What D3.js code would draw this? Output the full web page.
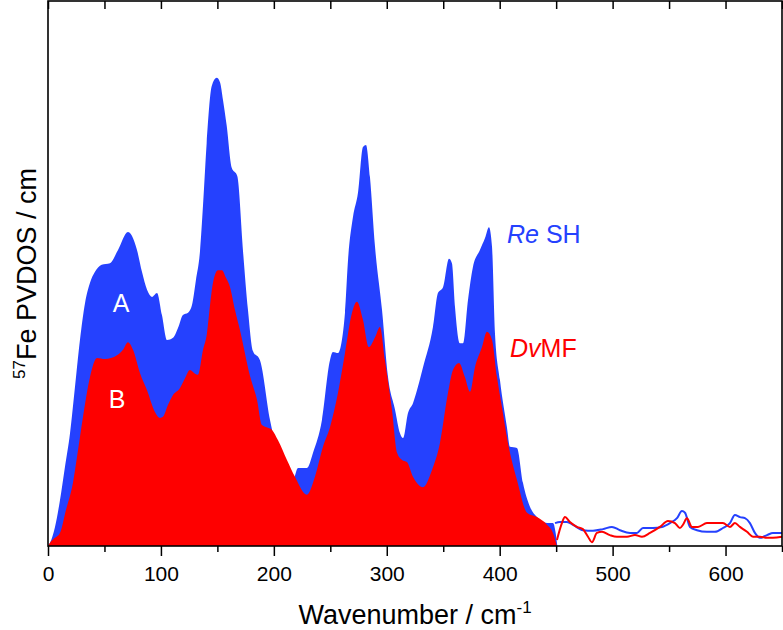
<!DOCTYPE html>
<html>
<head>
<meta charset="utf-8">
<script src="https://cdn.jsdelivr.net/npm/d3@7"></script>
<style>
  html, body { margin: 0; padding: 0; background: #fff; }
  svg { display: block; font-family: "Liberation Sans", Arial, Helvetica, sans-serif; }
</style>
</head>
<body>
<svg id="chart" width="783" height="630"></svg>
<script>
// ---- Data (wavenumber in cm^-1, PVDOS in arbitrary units) ----
// Re SH (A), filled part 0–450 cm^-1
const reshFillWn = [0,1.8,6.2,10.6,15,19.5,23.9,28.3,32.8,37.2,41.6,47.5,54.9,62,70.8,74.4,78.8,83.2,87.7,92.1,96.5,100.9,105.4,110.7,115.1,119.5,124,127.5,131,134.6,137.3,140.5,145,149.4,152.3,155,158.2,162.7,167.6,172.7,177.1,181.5,187.7,196.6,205.4,216.9,221.4,229.3,234.7,242.6,249.7,252.3,256.8,263,265.7,270.1,274.5,278.9,281.6,285.1,289.6,295.8,301.1,307.3,311.7,314.4,318.8,323.2,327.6,332.1,340.9,345.3,349.8,355.1,357.7,360.4,364.8,367.5,371.9,376.3,382.5,387,390.5,393.2,395.8,400.2,406.4,409.1,415.3,420.6,426.8,433,441.9,447.2,449.5,451];
const reshFillVal = [0,0.6,3.5,8.4,14.5,20.7,29.2,37.8,44.6,48.3,50.3,51.6,51.9,54.3,57.6,56.9,54.3,50.3,47.0,45.7,46.4,42.4,37.8,38.2,40.0,42.4,42.8,44.2,48.8,54.1,62.6,73.9,84.4,85.9,85.1,81.8,77.2,69.4,67.9,54.1,43.3,35.8,34.1,23.1,15.8,12.1,14.3,14.3,17.1,23.1,34.1,35.6,35.4,42.8,52.5,60.4,64.8,73.2,73.6,67.7,54.9,43.3,31.0,25.0,20.7,19.8,24.4,26.2,29.2,32.8,40.2,46.4,47.5,52.7,51.9,43.9,37.2,37.2,45.1,51.2,54.3,56.5,58.5,54.9,39.1,30.5,21.8,18.2,18.0,11.6,7.2,5.3,4.2,4.2,2.5,0];
// Re SH tail 450–650 cm^-1
const reshTailWn = [449,453.4,459.6,464.9,473.7,482.6,491.5,499.4,506.5,515.4,521.6,526.9,535.7,543.7,550.8,557,561.4,564.1,568.5,574.7,583.5,590.6,597.7,603.9,608.3,612.8,617.2,621.6,626,630.5,636.7,642,650];
const reshTailVal = [4.2,4.4,4.4,3.9,2.9,2.8,3.1,3.5,2.9,2.4,2.4,3.3,3.3,3.5,4.2,5.1,6.4,6.1,3.5,2.9,2.6,2.6,3.3,4.2,5.7,5.3,5.1,4.2,2.4,1.5,2.0,2.4,2.4];

// DvMF (B), filled part 0–450 cm^-1
const dvmfFillWn = [0,1.8,6.2,10.6,15.9,22.1,26.6,31,37.2,43.4,50.5,61.1,66.4,70.8,75.3,81.5,87.7,94.7,99.2,101.8,106.3,110.7,116.9,121.3,125.7,130.2,132.8,137.3,140.8,143.5,146.1,150.5,154.1,157.6,161.2,165.6,170,178.9,185.1,189.5,194.8,198.4,203.7,211.6,218.7,229.3,236.4,243.5,249.7,256.8,263,269.2,273.6,278.9,284.2,289.6,294,298.4,304.6,309.1,313.5,317.9,323.2,332.1,340,347.1,354.2,358.6,364,369.2,373.7,378.1,384.3,388.7,393.2,397.6,402,407.3,415.3,424.2,433,441.9,447.2,450.7];
const dvmfFillVal = [0,0.6,1.5,2.4,6.6,11.6,17.6,23.7,31.0,34.5,34.3,35.0,36.0,37.4,36.0,31.7,28.6,24.6,23.5,23.7,25.9,27.7,29.0,30.8,32.3,31.6,31.4,36.0,39.1,44.2,48.3,50.6,50.6,49.2,47.5,43.3,39.6,31.2,26.8,22.2,21.7,21.3,19.4,15.8,12.7,9.4,12.7,18.2,21.8,28.1,35.4,42.8,44.8,41.5,36.5,38.3,40.2,34.1,25.0,17.1,15.8,15.4,12.7,10.8,13.9,18.9,28.1,32.3,33.6,31.0,28.3,32.8,36.5,39.3,37.8,31.0,25.5,18.9,12.1,6.1,5.3,3.9,2.4,0];
// DvMF tail 450–650 cm^-1
const dvmfTailWn = [450.7,455.1,457.8,462.2,468.4,473.7,478.2,481.7,486.1,490.6,497.6,503.8,512.7,519.8,526,533.1,541.9,549,555.2,559.6,562.3,565.8,570.3,575.6,583.5,592.4,597.7,603.9,608.3,612.8,619,624.3,630.5,636.7,642,650];
const dvmfTailVal = [1.1,4.2,5.3,4.4,3.5,3.1,1.7,0.7,2.4,2.6,2.0,1.7,1.7,2.0,1.7,2.4,3.5,4.6,4.2,3.3,3.9,5.1,3.5,3.5,4.2,4.2,4.2,3.5,4.2,3.5,2.6,1.7,1.7,1.5,1.5,1.7];

const xMajorTicks = [0,100,200,300,400,500,600];
const xMinorTicks = [50,150,250,350,450,550,650];
const xDomain = [0,650];
const yDomain = [0,100];

// ---- Layout ----
const svg = d3.select("#chart");
const W = 783, H = 630;
const mLeft = 48, mRight = 782, mTop = 1, mBottom = 546;
const blue = "#2541fe", red = "#fe0000";

svg.append("rect").attr("width", W).attr("height", H).attr("fill", "#fff");

const x = d3.scaleLinear().domain(xDomain).range([mLeft, mRight]);
const y = d3.scaleLinear().domain(yDomain).range([mBottom, mTop]);

const zip = (a, b) => a.map((v, i) => [v, b[i]]);

const area = d3.area().x(d => x(d[0])).y0(y(0)).y1(d => y(d[1])).curve(d3.curveMonotoneX);
const line = d3.line().x(d => x(d[0])).y(d => y(d[1])).curve(d3.curveMonotoneX);

const g = svg.append("g");
g.append("path").datum(zip(reshFillWn, reshFillVal)).attr("d", area).attr("fill", blue);
g.append("path").datum(zip(dvmfFillWn, dvmfFillVal)).attr("d", area).attr("fill", red);
g.append("path").datum(zip(reshTailWn, reshTailVal)).attr("d", line)
  .attr("fill", "none").attr("stroke", blue).attr("stroke-width", 2);
g.append("path").datum(zip(dvmfTailWn, dvmfTailVal)).attr("d", line)
  .attr("fill", "none").attr("stroke", red).attr("stroke-width", 2);

// ---- Axes ----
const axisStyle = sel => {
  sel.select(".domain").remove();
  sel.selectAll(".tick line").attr("stroke", "#000").attr("stroke-width", 1.5);
};
// bottom major
svg.append("g").attr("transform", `translate(0,${mBottom})`)
  .call(d3.axisBottom(x).tickValues(xMajorTicks).tickSize(10).tickPadding(10).tickFormat(d3.format("d")))
  .call(axisStyle)
  .call(s => s.selectAll(".tick text").attr("font-size", 21).attr("fill", "#000")
    .attr("font-family", "'Liberation Sans', Arial, sans-serif"));
// bottom minor
svg.append("g").attr("transform", `translate(0,${mBottom})`)
  .call(d3.axisBottom(x).tickValues(xMinorTicks).tickSize(6).tickFormat(""))
  .call(axisStyle);
// top major & minor (inward)
svg.append("g").attr("transform", `translate(0,${mTop})`)
  .call(d3.axisBottom(x).tickValues(xMajorTicks.concat(xMinorTicks)).tickSize(8).tickFormat(""))
  .call(axisStyle);

// frame
svg.append("rect").attr("x", mLeft).attr("y", mTop).attr("width", mRight - mLeft).attr("height", mBottom - mTop)
  .attr("fill", "none").attr("stroke", "#000").attr("stroke-width", 1.6);

// ---- Titles ----
const xt = svg.append("text").attr("x", (mLeft + mRight) / 2).attr("y", 624)
  .attr("text-anchor", "middle").attr("font-size", 27).attr("fill", "#000");
xt.append("tspan").text("Wavenumber / cm");
xt.append("tspan").attr("font-size", 17).attr("dy", -11).text("-1");

const yt = svg.append("text")
  .attr("transform", `translate(36,${(mTop + mBottom) / 2}) rotate(-90)`)
  .attr("text-anchor", "middle").attr("font-size", 27).attr("fill", "#000");
yt.append("tspan").attr("font-size", 17).attr("dy", -11).text("57");
yt.append("tspan").attr("dy", 11).text("Fe PVDOS / cm");

// ---- Annotations ----
svg.append("text").attr("x", 121).attr("y", 312).attr("text-anchor", "middle")
  .attr("font-size", 25).attr("fill", "#fff").text("A");
svg.append("text").attr("x", 117).attr("y", 408).attr("text-anchor", "middle")
  .attr("font-size", 25).attr("fill", "#fff").text("B");

const l1 = svg.append("text").attr("x", 507).attr("y", 243).attr("font-size", 25).attr("fill", blue);
l1.append("tspan").attr("font-style", "italic").text("Re");
l1.append("tspan").text(" SH");
const l2 = svg.append("text").attr("x", 510).attr("y", 357).attr("font-size", 25).attr("fill", red);
l2.append("tspan").attr("font-style", "italic").text("Dv");
l2.append("tspan").text("MF");
</script>
</body>
</html>
